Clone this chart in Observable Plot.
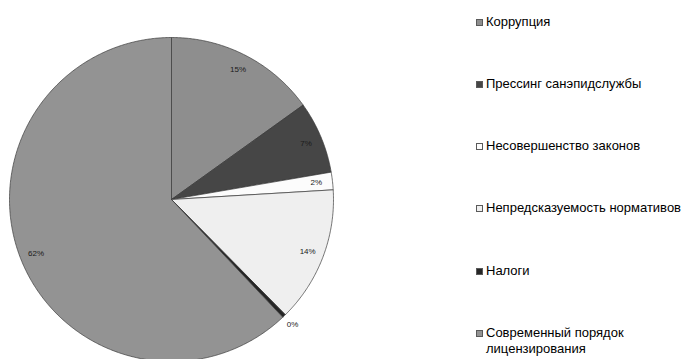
<!DOCTYPE html>
<html><head><meta charset="utf-8">
<script src="https://cdn.jsdelivr.net/npm/d3@7"></script>
<script src="https://cdn.jsdelivr.net/npm/@observablehq/plot@0.6"></script>
<style>
body{margin:0;background:#fff;}
#wrap{position:relative;width:687px;height:359px;overflow:hidden;font-family:"Liberation Sans",Arial,sans-serif;}
#legend{position:absolute;left:476px;top:0;width:211px;height:359px;}
.item{position:absolute;left:0;width:211px;display:flex;align-items:flex-start;font-size:13px;line-height:16.5px;color:#000;}
.sw{width:7px;height:7px;margin-top:5px;margin-right:3px;border:1px solid #5a5a5a;box-sizing:border-box;flex:none;}
</style></head><body><div id="wrap"></div>
<script>
const categories = ["Коррупция", "Прессинг санэпидслужбы", "Несовершенство законов", "Непредсказуемость нормативов", "Налоги", "Современный порядок лицензирования"];
const values = [15.1, 7.2, 1.75, 13.55, 0.35, 62.05];
const colors = ["#8e8e8e", "#464646", "#fcfcfc", "#efefef", "#262626", "#939393"];

const total = d3.sum(values);
let acc = 0;
const slices = values.map((v, i) => {
  const s = acc / total; acc += v;
  return {name: categories[i], value: v, start: s, end: acc / total};
});
const pts = [];
for (const s of slices) {
  pts.push({name: s.name, x: 0, y: 0});
  const n = Math.max(2, Math.ceil((s.end - s.start) * 720));
  for (let k = 0; k <= n; k++) {
    const t = 2 * Math.PI * (s.start + (s.end - s.start) * k / n);
    pts.push({name: s.name, x: Math.sin(t), y: Math.cos(t)});
  }
  pts.push({name: s.name, x: 0, y: 0});
}
const labR = d => d.value < 1 ? 1.075 : 0.9;
const mid = d => 2 * Math.PI * (d.start + d.end) / 2;

const cx = 171, cy = 199, R = 162;
const chart = Plot.plot({
  width: 687, height: 359, margin: 0,
  style: {background: "transparent", overflow: "visible"},
  x: {domain: [-1, 1], range: [cx - R, cx + R], axis: null},
  y: {domain: [-1, 1], range: [cy + R, cy - R], axis: null},
  color: {domain: categories, range: colors},
  marks: [
    Plot.line(pts, {x: "x", y: "y", z: "name", fill: "name", stroke: "#3a3a3a", strokeWidth: 0.7, strokeLinejoin: "round", curve: "linear"}),
    Plot.text(slices, {
      x: d => labR(d) * Math.sin(mid(d)),
      y: d => labR(d) * Math.cos(mid(d)),
      text: d => Math.round(d.value) + "%",
      fontSize: 8, fill: "#1a1a1a", fontFamily: "Liberation Sans, Arial, sans-serif"
    })
  ]
});
const wrap = document.getElementById("wrap");
wrap.appendChild(chart);
const legend = document.createElement("div");
legend.id = "legend";
categories.forEach((c, i) => {
  const it = document.createElement("div");
  it.className = "item";
  it.style.top = (22 + i * 62.2 - 8.25) + "px";
  const sw = document.createElement("span");
  sw.className = "sw";
  sw.style.background = colors[i];
  const tx = document.createElement("span");
  tx.textContent = c;
  it.appendChild(sw); it.appendChild(tx);
  legend.appendChild(it);
});
wrap.appendChild(legend);
</script></body></html>
